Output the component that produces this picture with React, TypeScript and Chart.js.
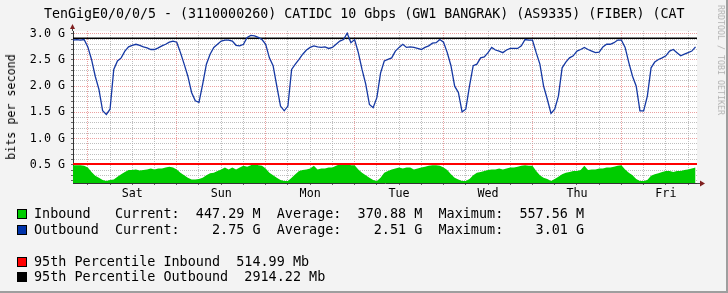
import React, { useEffect, useRef } from "react";
import { Chart, registerables } from "chart.js";

Chart.register(...registerables);

// ---------------- data ----------------
const chartTitle =
  "TenGigE0/0/0/5 - (3110000260) CATIDC 10 Gbps (GW1 BANGRAK) (AS9335) (FIBER) (CAT";
const yAxisTitle = "bits per second";
const watermark = "RRDTOOL / TOBI OETIKER";
const dayLabels = ["Sat", "Sun", "Mon", "Tue", "Wed", "Thu", "Fri"];

// hours since start of window (Fri ~20:00); first midnight (Sat 00:00) at hour 4
const firstMidnightHour = 4;
const windowHours = 168.4;

// Inbound (G bits/s), one sample per hour
const inbound = [
  0.49, 0.49, 0.49, 0.48, 0.45, 0.36, 0.29, 0.25, 0.21, 0.19, 0.21, 0.22, 0.27, 0.32, 0.36, 0.40,
  0.40, 0.41, 0.39, 0.40, 0.41, 0.43, 0.41, 0.43, 0.43, 0.45, 0.46, 0.45, 0.41, 0.35, 0.30, 0.25,
  0.22, 0.22, 0.23, 0.25, 0.30, 0.34, 0.35, 0.38, 0.41, 0.45, 0.41, 0.45, 0.41, 0.45, 0.48, 0.46,
  0.49, 0.53, 0.49, 0.48, 0.43, 0.35, 0.30, 0.25, 0.21, 0.19, 0.19, 0.25, 0.32, 0.38, 0.40, 0.41,
  0.43, 0.48, 0.41, 0.43, 0.43, 0.45, 0.45, 0.48, 0.51, 0.53, 0.53, 0.49, 0.49, 0.41, 0.35, 0.30,
  0.25, 0.21, 0.19, 0.25, 0.35, 0.38, 0.41, 0.43, 0.45, 0.43, 0.45, 0.45, 0.41, 0.43, 0.45, 0.46,
  0.48, 0.49, 0.49, 0.48, 0.45, 0.40, 0.32, 0.25, 0.22, 0.19, 0.19, 0.23, 0.30, 0.35, 0.36, 0.38,
  0.40, 0.41, 0.41, 0.43, 0.41, 0.43, 0.45, 0.45, 0.46, 0.48, 0.49, 0.48, 0.48, 0.38, 0.30, 0.25,
  0.23, 0.19, 0.23, 0.27, 0.32, 0.35, 0.36, 0.38, 0.38, 0.40, 0.48, 0.40, 0.41, 0.41, 0.43, 0.43,
  0.45, 0.45, 0.46, 0.48, 0.49, 0.41, 0.35, 0.30, 0.23, 0.19, 0.19, 0.21, 0.29, 0.32, 0.34, 0.36,
  0.38, 0.38, 0.36, 0.38, 0.38, 0.40, 0.41, 0.43, 0.447,
];

// Outbound (G bits/s), one sample per hour
const outbound = [
  2.88, 2.89, 2.88, 2.89, 2.75, 2.51, 2.19, 1.94, 1.53, 1.46, 1.56, 2.32, 2.48, 2.54, 2.67, 2.75,
  2.78, 2.80, 2.78, 2.75, 2.73, 2.70, 2.70, 2.73, 2.77, 2.80, 2.84, 2.86, 2.84, 2.64, 2.42, 2.19,
  1.88, 1.72, 1.69, 2.04, 2.42, 2.61, 2.74, 2.80, 2.86, 2.88, 2.88, 2.86, 2.78, 2.77, 2.80, 2.93,
  2.97, 2.96, 2.93, 2.89, 2.80, 2.54, 2.39, 2.00, 1.62, 1.53, 1.62, 2.32, 2.42, 2.51, 2.61, 2.69,
  2.74, 2.77, 2.75, 2.74, 2.75, 2.72, 2.74, 2.80, 2.86, 2.89, 3.01, 2.83, 2.89, 2.64, 2.32, 2.04,
  1.65, 1.59, 1.78, 2.25, 2.48, 2.51, 2.54, 2.67, 2.74, 2.80, 2.74, 2.75, 2.74, 2.72, 2.70, 2.74,
  2.77, 2.82, 2.83, 2.89, 2.84, 2.64, 2.39, 2.00, 1.88, 1.51, 1.56, 2.00, 2.39, 2.42, 2.54, 2.56,
  2.64, 2.74, 2.69, 2.67, 2.64, 2.69, 2.72, 2.72, 2.72, 2.77, 2.89, 2.88, 2.88, 2.64, 2.42, 2.00,
  1.75, 1.48, 1.56, 1.81, 2.35, 2.46, 2.54, 2.58, 2.67, 2.70, 2.74, 2.70, 2.67, 2.64, 2.65, 2.75,
  2.80, 2.80, 2.83, 2.88, 2.88, 2.74, 2.45, 2.19, 2.00, 1.53, 1.53, 1.81, 2.35, 2.46, 2.51, 2.54,
  2.58, 2.67, 2.70, 2.64, 2.58, 2.61, 2.64, 2.67, 2.75,
];

const p95Inbound = 0.51499;
const p95Outbound = 2.91422;

const yMin = 0.152;
const yMax = 3.053;
const yLabelStep = 0.5;

const legendRows = [
  { color: "#00cc00", text: "Inbound   Current:  447.29 M  Average:  370.88 M  Maximum:  557.56 M" },
  { color: "#0033aa", text: "Outbound  Current:    2.75 G  Average:    2.51 G  Maximum:    3.01 G" },
  { color: "#ff0000", text: "95th Percentile Inbound  514.99 Mb" },
  { color: "#000000", text: "95th Percentile Outbound  2914.22 Mb" },
];
const legendTops = [205.5, 221.5, 254, 269];

// ---------------- styles ----------------
const FONT = '"DejaVu Sans Mono", monospace';
const MAJOR_GRID = "rgba(230,130,130,0.75)";
const MINOR_GRID = "rgba(170,170,170,0.75)";

const framePlugin = {
  id: "rrdFrame",
  beforeDraw(chart: any) {
    const { ctx, chartArea: a } = chart;
    ctx.save();
    ctx.fillStyle = "#ffffff";
    ctx.fillRect(a.left, a.top, a.right - a.left, a.bottom - a.top);
    ctx.restore();
  },
  afterDraw(chart: any) {
    const { ctx, chartArea: a } = chart;
    ctx.save();
    ctx.strokeStyle = "#444";
    ctx.lineWidth = 1;
    ctx.beginPath();
    ctx.moveTo(a.left - 0.5, a.top);
    ctx.lineTo(a.left - 0.5, a.top - 3);
    ctx.moveTo(a.right, a.bottom + 0.5);
    ctx.lineTo(a.right + 3, a.bottom + 0.5);
    ctx.stroke();
    ctx.fillStyle = "#7f1f1f";
    ctx.beginPath();
    ctx.moveTo(a.left - 3, a.top - 2);
    ctx.lineTo(a.left + 2, a.top - 2);
    ctx.lineTo(a.left - 0.5, a.top - 7);
    ctx.closePath();
    ctx.fill();
    ctx.beginPath();
    ctx.moveTo(a.right + 3, a.bottom - 2.5);
    ctx.lineTo(a.right + 3, a.bottom + 3.5);
    ctx.lineTo(a.right + 8, a.bottom + 0.5);
    ctx.closePath();
    ctx.fill();
    ctx.restore();
  },
};

export default function App() {
  const canvasRef = useRef<HTMLCanvasElement | null>(null);

  useEffect(() => {
    document.body.style.margin = "0";
    const canvas = canvasRef.current;
    if (!canvas) return;

    const inPts = inbound.map((v, i) => ({ x: i, y: v }));
    const outPts = outbound.map((v, i) => ({ x: i, y: v }));

    const isMajorX = (v: number) => (((v - firstMidnightHour) % 24) + 24) % 24 === 0;
    const isMajorY = (v: number) => Math.round(v * 10) % Math.round(yLabelStep * 10) === 0;

    const chart = new Chart(canvas, {
      type: "line",
      data: {
        datasets: [
          {
            label: "Inbound",
            data: inPts,
            borderWidth: 0,
            borderColor: "#00cc00",
            backgroundColor: "#00cc00",
            fill: "start",
            pointRadius: 0,
            tension: 0,
            order: 4,
          },
          {
            label: "95th Percentile Inbound",
            data: [
              { x: 0, y: p95Inbound },
              { x: windowHours, y: p95Inbound },
            ],
            borderColor: "#ff0000",
            borderWidth: 2,
            pointRadius: 0,
            fill: false,
            order: 3,
          },
          {
            label: "95th Percentile Outbound",
            data: [
              { x: 0, y: p95Outbound },
              { x: windowHours, y: p95Outbound },
            ],
            borderColor: "#000000",
            borderWidth: 1.5,
            pointRadius: 0,
            fill: false,
            order: 2,
          },
          {
            label: "Outbound",
            data: outPts,
            borderColor: "#1538a3",
            borderWidth: 1.3,
            pointRadius: 0,
            fill: false,
            tension: 0,
            order: 1,
          },
        ],
      },
      options: {
        animation: false,
        responsive: false,
        maintainAspectRatio: false,
        devicePixelRatio: 1,
        layout: { padding: { left: 0, right: 31, top: 31, bottom: 0 } },
        plugins: {
          legend: { display: false },
          title: { display: false },
          tooltip: { enabled: false },
        },
        scales: {
          x: {
            type: "linear",
            min: 0,
            max: windowHours,
            afterFit(scale: any) {
              scale.height = 110;
            },
            afterBuildTicks(scale: any) {
              const t = [];
              for (let v = firstMidnightHour; v <= windowHours; v += 6) t.push({ value: v });
              scale.ticks = t;
            },
            grid: {
              color: (c: any) => (c.tick && isMajorX(c.tick.value) ? MAJOR_GRID : MINOR_GRID),
              lineWidth: 1,
              drawTicks: true,
              tickLength: 2,
              tickColor: "#666",
            },
            border: { display: true, color: "#333", width: 1, dash: [1, 1] },
            ticks: {
              autoSkip: false,
              maxRotation: 0,
              padding: 1.5,
              color: "#000",
              font: { family: FONT, size: 11.7 },
              callback: (value: any) => {
                const rel = Number(value) - firstMidnightHour;
                if (((rel % 24) + 24) % 24 === 12) return dayLabels[Math.floor(rel / 24)] ?? "";
                return "";
              },
            },
          },
          y: {
            type: "linear",
            min: yMin,
            max: yMax,
            afterFit(scale: any) {
              scale.width = 73;
            },
            afterBuildTicks(scale: any) {
              const t = [];
              for (let k = Math.ceil(yMin * 10); k <= Math.floor(yMax * 10); k++) t.push({ value: k / 10 });
              scale.ticks = t;
            },
            grid: {
              color: (c: any) => (c.tick && isMajorY(c.tick.value) ? MAJOR_GRID : MINOR_GRID),
              lineWidth: 1,
              drawTicks: true,
              tickLength: 2,
              tickColor: "#666",
            },
            border: { display: true, color: "#333", width: 1, dash: [1, 1] },
            ticks: {
              autoSkip: false,
              padding: 6,
              color: "#000",
              font: { family: FONT, size: 11.7 },
              callback: (value: any) => {
                const v = Number(value);
                return isMajorY(v) ? `${v.toFixed(1)} G` : "";
              },
            },
          },
        },
      },
      plugins: [framePlugin],
    });

    return () => chart.destroy();
  }, []);

  return (
    <div
      style={{
        position: "relative",
        width: 728,
        height: 293,
        background: "#f3f3f3",
        overflow: "hidden",
        fontFamily: FONT,
        color: "#000",
      }}
    >
      <canvas
        ref={canvasRef}
        width={728}
        height={293}
        style={{ position: "absolute", left: 0, top: 0, width: 728, height: 293 }}
      />
      <div
        style={{
          position: "absolute",
          left: 44,
          top: 5.5,
          fontSize: 13.3,
          lineHeight: "16px",
          whiteSpace: "pre",
        }}
      >
        {chartTitle}
      </div>
      <div
        style={{
          position: "absolute",
          left: 10.5,
          top: 106.5,
          fontSize: 11.7,
          lineHeight: "14px",
          whiteSpace: "pre",
          transform: "translate(-50%, -50%) rotate(-90deg)",
        }}
      >
        {yAxisTitle}
      </div>
      <div
        style={{
          position: "absolute",
          left: 720.5,
          top: 60,
          fontSize: 8.3,
          lineHeight: "10px",
          whiteSpace: "pre",
          color: "#b4b4b4",
          transform: "translate(-50%, -50%) rotate(90deg)",
        }}
      >
        {watermark}
      </div>
      {legendRows.map((r, i) => (
        <div
          key={i}
          style={{ position: "absolute", left: 0, top: legendTops[i], height: 16, width: 728 }}
        >
          <div
            style={{
              position: "absolute",
              left: 17,
              top: 3,
              width: 10,
              height: 10,
              boxSizing: "border-box",
              border: "1px solid #000",
              background: r.color,
            }}
          />
          <div
            style={{
              position: "absolute",
              left: 34,
              top: 0,
              fontSize: 13.45,
              lineHeight: "16px",
              whiteSpace: "pre",
            }}
          >
            {r.text}
          </div>
        </div>
      ))}
      <div style={{ position: "absolute", right: 0, top: 0, width: 2, height: 293, background: "#9e9e9e" }} />
      <div style={{ position: "absolute", left: 0, bottom: 0, width: 728, height: 2, background: "#9e9e9e" }} />
    </div>
  );
}
